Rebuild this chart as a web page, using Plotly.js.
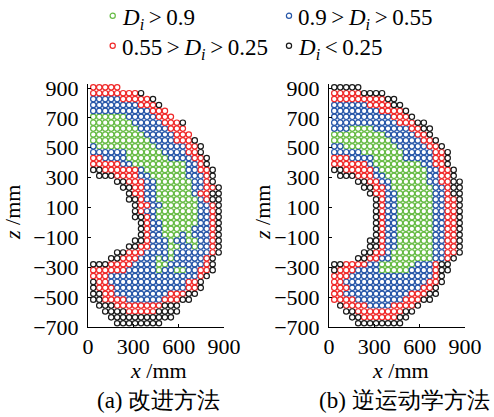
<!DOCTYPE html>
<html><head><meta charset="utf-8">
<script src="https://cdn.plot.ly/plotly-3.0.1.min.js"></script>
<style>html,body{margin:0;padding:0;background:#fff}#chart{width:494px;height:417px}</style>
</head><body><div id="chart"></div>
<script>
// category codes used in the grid maps
const categories = ['g', 'b', 'r', 'k'];
const T = '\u2009';
const categoryLabels = [
  '<i>D</i><sub><i>i</i></sub>' + T + '&gt;' + T + '0.9',
  '0.9' + T + '&gt;' + T + '<i>D</i><sub><i>i</i></sub>' + T + '&gt;' + T + '0.55',
  '0.55' + T + '&gt;' + T + '<i>D</i><sub><i>i</i></sub>' + T + '&gt;' + T + '0.25',
  '<i>D</i><sub><i>i</i></sub>' + T + '&lt;' + T + '0.25'
];
const categoryColors = ['#66bb44', '#2656a8', '#f02828', '#1a1a1a'];

// sample grid (mm): column 0 x position, row 0 z position, step
const gridX0 = 35;
const gridZ0 = 905;
const gridStep = 39.5;

// (a) improved method: one string per grid row, top row first
const gridA = [
  "rrrrr",
  "rrrrrrrrk",
  "bbbbbrrrrrk",
  "bbbbbbbbrrrk",
  "bbbbbbbbbbrrr",
  "ggggggbbbbbrrr",
  "gggggggbbbbbrrrk",
  "ggggggggbbbbbrrr",
  "gggggggggbbbbbrrr",
  "ggggggggggbbbbrrrk",
  "bggggggggggbbbbbrrk",
  "bbbbbbggggggbbbbrrk",
  "rrbbbbgggggggbbbbrrk",
  "rrrrrbbgggggggggbbrk",
  "kkrrrrrrbgggggggbbrrk",
  ".kkkrrrrbbggggggbbbrk",
  "....kkrrrbbggggggbbrk",
  ".....kkrrbbggggggbbrrk",
  "......krrbbggggggbrrkk",
  "......kkrbbgggggggbrkk",
  ".......krrbbggggggbbrk",
  ".......krbbgggggggbbrk",
  ".......kkrbgggggggbbrk",
  "........krbbggggggbbrk",
  "........krbbgggggbbbrk",
  "........krbbgggbgbbbrk",
  ".......kkrbbbgbbggbbrk",
  "......kkrrbbbggbbgbbrk",
  "....kkrrrbbbbgbbbbbbrk",
  "...kkrrrbbbgbgbbbbbrk",
  "kkkrrrrbbbbggbbbbbbrk",
  "rrrrrrbbbbbgbbggbbrrk",
  "rrrbbbbbbbbbbbbbbbrk",
  "krrbbbbbbbbbbbbbrrk",
  "krrrbbbbbbbbbbbbrrk",
  "kkrrbbbbbbbbbrrrkk",
  "kkrrrrbbbbbbrrrkk",
  ".kkkrrrrrrrrkkk",
  "..kkkkrrrrrkkkk",
  "...kkkkkkkkkkk",
  "....kkkkkkkk"
];

// (b) inverse kinematics method
const gridB = [
  "kkkkk",
  "rrrrrkkkk",
  "rrrrrrrrrkk",
  "bbbbbbrrrrkk",
  "bbbbbbbbrrrrk",
  "bbbbbbbbbbrrrk",
  "bbbbbbbbbbbrrrkk",
  "bbbggggbbbbbbrrkk",
  "gggggggggbbbbbrrk",
  "ggggggggggbbbbbrrk",
  "bbgggggggggbbbbbrrk",
  "bbbbbgggggggbbbbbrrk",
  "rrrbbbbgggggbbbbbrrk",
  "rrrrrrbggggggggbbrrk",
  "kkrrrrrbggggggggbbrrk",
  ".kkkrrrbbgggggggbbrrk",
  "....kkrrbbggggggbbrrkk",
  ".....kkrrbgggggggbbrkk",
  "......krrbbggggggbbrkk",
  ".......krbbggggggbbrrk",
  ".......krbbggggggbbrrk",
  ".......krbbggggggbbrrk",
  ".......krbbggggggbbrrk",
  ".......krbbggggggbbrrk",
  ".......krbbggggggbbrrk",
  ".......krbbggggggbbrrk",
  "......kkrbbggggggbbrrk",
  "......kkrbbggggggbbrrk",
  ".....kkrrbgggggggbbrrk",
  "....kkrrbbgggggggbbrk",
  "kkrrrrbbggggggbbbrkk",
  "krrrbbbbgggggbbbbrkk",
  "rrrbbbbbbbbbbbbbbrk",
  "rrbbbbbbbbbbbbbbrrk",
  "rrrbbbbbbbbbbbbrrk",
  "rrbbbbbbbbbbbrrrkk",
  "rrrrbbbbbbbbrrrkk",
  ".krrrrbbbbrrrrk",
  "..kkrrrrrrrrkk",
  "...kkrrrrrrkk",
  "....kkkkkkkk"
];

const xTicks = [0, 300, 600, 900];
const zTicks = [900, 700, 500, 300, 100, -100, -300, -500, -700];
const zTickText = ['900', '700', '500', '300', '100', '\u2212100', '\u2212300', '\u2212500', '\u2212700'];
const panelTitles = ['(a) 改进方法', '(b) 逆运动学方法'];

const serif = 'Liberation Serif';

function gridTraces(grid, xa, ya) {
  return categories.map((cat, i) => {
    const xs = [], zs = [];
    grid.forEach((row, r) => {
      for (let c = 0; c < row.length; c++) {
        if (row[c] === cat) { xs.push(gridX0 + c * gridStep); zs.push(gridZ0 - r * gridStep); }
      }
    });
    return {
      type: 'scatter', mode: 'markers', x: xs, y: zs, xaxis: xa, yaxis: ya,
      showlegend: false, hoverinfo: 'skip', cliponaxis: false,
      marker: { symbol: 'circle-open', size: 5.4, color: categoryColors[i], line: { width: 1.2, color: categoryColors[i] } }
    };
  });
}

const data = [...gridTraces(gridA, 'x', 'y'), ...gridTraces(gridB, 'x2', 'y2')];

function xAxis(domain, anchor) {
  return {
    domain: domain, anchor: anchor, range: [0, 900], tickvals: xTicks, ticktext: xTicks.map(String),
    ticks: 'inside', ticklen: 3, tickcolor: '#000', showline: true, linecolor: '#000', linewidth: 1,
    showgrid: false, zeroline: false, tickfont: { family: serif, size: 22, color: '#000' }, fixedrange: true
  };
}
function zAxis(domain, anchor) {
  return {
    domain: domain, anchor: anchor, range: [-700, 925], tickvals: zTicks, ticktext: zTickText,
    ticks: 'inside', ticklen: 3, tickcolor: '#000', showline: true, linecolor: '#000', linewidth: 1,
    showgrid: false, zeroline: false, tickfont: { family: serif, size: 22, color: '#000' }, fixedrange: true,
    ticklabelstandoff: 4
  };
}

const legendPos = [[112.7, 15.7], [289, 15.7], [112.7, 45.7], [289, 45.7]];
const W = 494, H = 417;
const shapes = legendPos.map((p, i) => ({
  type: 'circle', xref: 'paper', yref: 'paper', xsizemode: 'pixel', ysizemode: 'pixel',
  xanchor: p[0] / W, yanchor: 1 - p[1] / H, x0: -2.6, x1: 2.6, y0: -2.6, y1: 2.6,
  line: { color: categoryColors[i], width: 1.2 }
}));
const annotations = legendPos.map((p, i) => ({
  xref: 'paper', yref: 'paper', x: (p[0] + 7) / W, y: 1 - (p[1] + 3) / H, xanchor: 'left', yanchor: 'middle',
  text: categoryLabels[i], showarrow: false, font: { family: serif, size: 23, color: '#000' }
}));
const axisTitle = '<i>x</i> /mm';
const zTitle = '<i>z</i> /mm';
annotations.push(
  { xref: 'paper', yref: 'paper', x: 158 / W, y: 1 - 370 / H, xanchor: 'center', yanchor: 'middle', text: axisTitle, showarrow: false, font: { family: serif, size: 22, color: '#000' } },
  { xref: 'paper', yref: 'paper', x: 400 / W, y: 1 - 370 / H, xanchor: 'center', yanchor: 'middle', text: axisTitle, showarrow: false, font: { family: serif, size: 22, color: '#000' } },
  { xref: 'paper', yref: 'paper', x: 12 / W, y: 1 - 213 / H, xanchor: 'center', yanchor: 'middle', textangle: -90, text: zTitle, showarrow: false, font: { family: serif, size: 22, color: '#000' } },
  { xref: 'paper', yref: 'paper', x: 262 / W, y: 1 - 213 / H, xanchor: 'center', yanchor: 'middle', textangle: -90, text: zTitle, showarrow: false, font: { family: serif, size: 22, color: '#000' } },
  { xref: 'paper', yref: 'paper', x: 158.5 / W, y: 1 - 400 / H, xanchor: 'center', yanchor: 'middle', text: panelTitles[0], showarrow: false, font: { family: serif, size: 23, color: '#000' } },
  { xref: 'paper', yref: 'paper', x: 404 / W, y: 1 - 400 / H, xanchor: 'center', yanchor: 'middle', text: panelTitles[1], showarrow: false, font: { family: serif, size: 23, color: '#000' } }
);

const layout = {
  width: W, height: H, margin: { l: 0, r: 0, t: 0, b: 0 },
  paper_bgcolor: '#fff', plot_bgcolor: 'rgba(0,0,0,0)', showlegend: false,
  xaxis: xAxis([88 / W, 224 / W], 'y'),
  yaxis: zAxis([1 - 327 / H, 1 - 84.3 / H], 'x'),
  xaxis2: xAxis([329 / W, 465 / W], 'y2'),
  yaxis2: zAxis([1 - 327 / H, 1 - 84.3 / H], 'x2'),
  shapes: shapes, annotations: annotations
};

Plotly.newPlot('chart', data, layout, { staticPlot: true, displayModeBar: false });
</script>
</body></html>
